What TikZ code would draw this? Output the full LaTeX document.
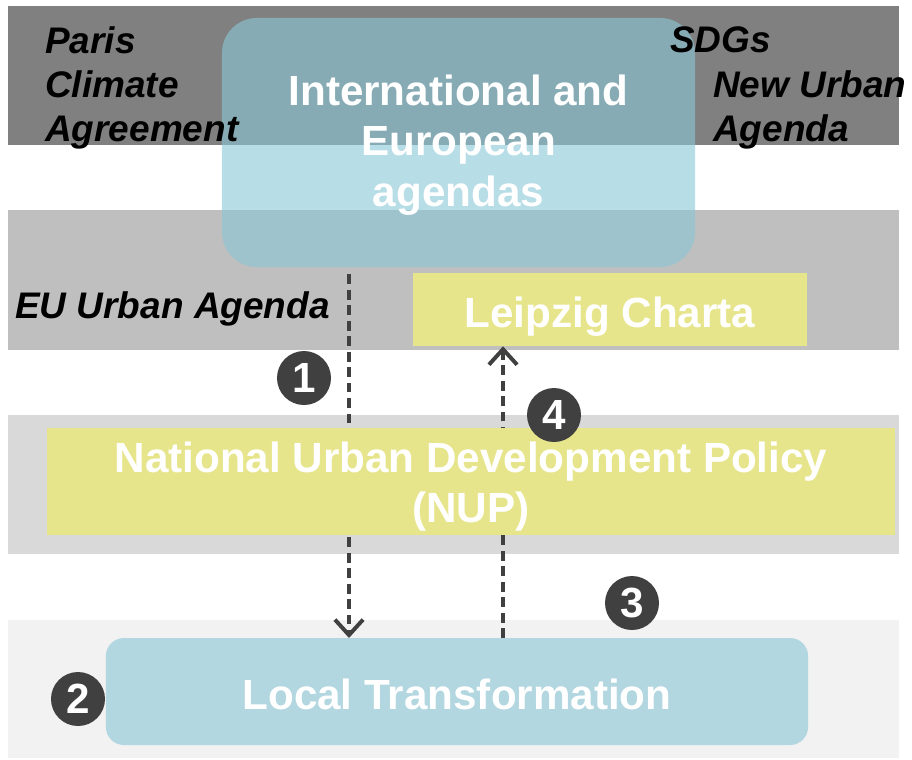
\documentclass[tikz,border=0pt]{standalone}
\usepackage{fontspec}
\setmainfont{Liberation Sans}
\usetikzlibrary{arrows.meta,positioning,calc}
\definecolor{bandDark}{RGB}{128,128,128}
\definecolor{bandMid}{RGB}{191,191,191}
\definecolor{bandLight}{RGB}{217,217,217}
\definecolor{bandPale}{RGB}{242,242,242}
\definecolor{agendaBlue}{RGB}{138,199,214}
\definecolor{policyYellow}{RGB}{231,229,140}
\definecolor{markGray}{RGB}{64,64,64}

\begin{document}
\begin{tikzpicture}[x=0.025cm,y=-0.025cm,
    bigText/.style={font=\fontsize{30}{35.6}\selectfont\bfseries,text=white,align=center},
    labelText/.style={font=\fontsize{26.3}{31.3}\selectfont\bfseries\itshape,text=black,align=left,inner sep=0pt},
    blueBox/.style={fill=agendaBlue,fill opacity=0.61,text opacity=1,inner sep=0pt,bigText},
    yellowBox/.style={fill=policyYellow,inner sep=0pt,bigText},
    oneLine/.style={text height=0.875cm,text depth=0pt},
    stepMark/.style={circle,fill=markGray,minimum size=1.35cm,inner sep=0pt,text=white,font=\fontsize{30}{30}\selectfont\bfseries},
    flow/.style={draw=markGray,line width=2.8pt,dash pattern=on 7pt off 4pt,-{Straight Barb[length=11pt,width=20pt]}}]
    \useasboundingbox (0,0) rectangle (912,759);

    % level bands
    \fill[bandDark] (8,6) rectangle (899,145);
    \fill[bandMid] (8,210) rectangle (899,350);
    \fill[bandLight] (8,415) rectangle (899,554);
    \fill[bandPale] (8,620) rectangle (899,758);

    % boxes
    \node[blueBox,text height=3.4cm,rounded corners=0.875cm,minimum width=11.825cm,minimum height=6.225cm] (intl) at (458.5,142.5) {International and\\European\\agendas};
    \node[yellowBox,oneLine,minimum width=9.85cm,minimum height=1.825cm] (leipzig) at (610,309.5) {Leipzig Charta};

    % agenda labels
    \node[labelText,anchor=north west] (paris) at (45,26.5) {Paris\\Climate\\Agreement};
    \node[labelText,anchor=base west] (sdgs) at (670,52) {SDGs};
    \node[labelText,anchor=north west] (nua) at (713,70.5) {New Urban\\Agenda};
    \node[labelText,anchor=base west] (euua) at (15,318) {EU Urban Agenda};

    % arrows
    \coordinate (downX) at (349,0);
    \coordinate (upX) at (503,0);
    \coordinate (localTop) at (457,638);
    \draw[flow,shorten <=0.175cm] (intl.south -| downX) -- (localTop -| downX);
    \draw[flow] (localTop -| upX) -- (leipzig.south -| upX);

    \node[yellowBox,text height=2.25cm,minimum width=21.2cm,minimum height=2.675cm] (nup) at (471,481.5) {National Urban Development Policy\\(NUP)};
    \node[blueBox,oneLine,rounded corners=0.45cm,minimum width=17.55cm,minimum height=2.675cm] (local) at (457,691.5) {Local Transformation};

    % step markers
    \node[stepMark] (one) at (304,378) {1};
    \node[stepMark] (two) at (78,699) {2};
    \node[stepMark] (three) at (632,603) {3};
    \node[stepMark] (four) at (554,415) {4};
\end{tikzpicture}
\end{document}
